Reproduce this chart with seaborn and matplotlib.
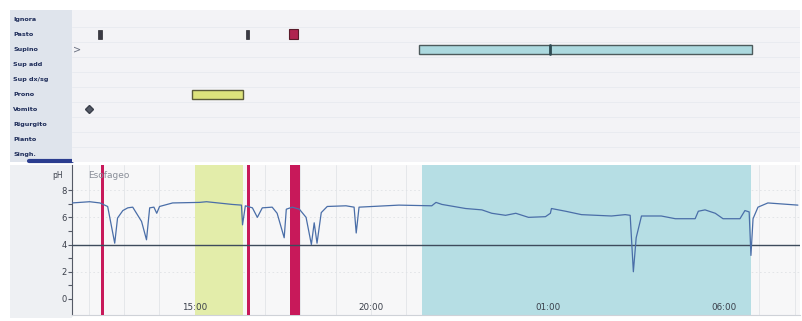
import numpy as np
import pandas as pd
import matplotlib
matplotlib.use("Agg")
import matplotlib.pyplot as plt
import seaborn as sns

# pH trace, time in clock hours (values past 24 belong to next day)
ph_time = [11.53, 12.03, 12.32, 12.54, 12.74, 12.82, 12.97, 13.11, 13.25, 13.50, 13.64, 13.73,
           13.85, 13.93, 14.01, 14.38, 15.14, 15.34, 16.07, 16.33, 16.36, 16.44, 16.64, 16.78,
           16.92, 17.20, 17.34, 17.54, 17.60, 17.77, 17.97, 18.16, 18.31, 18.39, 18.47, 18.59,
           18.76, 19.29, 19.52, 19.58, 19.66, 20.79, 21.72, 21.84, 22.01, 22.68, 23.14, 23.42,
           23.81, 24.10, 24.46, 24.94, 25.08, 25.11, 25.51, 25.96, 26.81, 27.20, 27.34, 27.43,
           27.51, 27.66, 28.22, 28.62, 29.18, 29.27, 29.46, 29.75, 29.97, 30.45, 30.59, 30.71,
           30.76, 30.82, 30.96, 31.24, 32.09]
ph_value = [7.06, 7.15, 7.06, 6.8, 4.1, 5.95, 6.5, 6.7, 6.75, 5.7, 4.35, 6.7,
            6.75, 6.3, 6.8, 7.06, 7.1, 7.15, 6.95, 6.9, 5.45, 6.85, 6.7, 6.0,
            6.7, 6.75, 6.3, 4.5, 6.6, 6.75, 6.6, 6.0, 4.0, 5.6, 4.1, 6.35,
            6.8, 6.85, 6.75, 4.85, 6.75, 6.9, 6.85, 7.1, 6.95, 6.65, 6.55, 6.3,
            6.15, 6.3, 6.0, 6.05, 6.3, 6.65, 6.45, 6.2, 6.1, 6.2, 6.15, 2.0,
            4.5, 6.1, 6.1, 5.9, 5.9, 6.45, 6.55, 6.3, 5.9, 5.9, 6.5, 6.4,
            3.2, 5.9, 6.75, 7.06, 6.9]

row_labels = ["Ignora", "Pasto", "Supino", "Sup add", "Sup dx/sg", "Prono",
              "Vomito", "Rigurgito", "Pianto", "Singh."]

meal_start = [12.28, 16.46]
meal_end = [12.37, 16.55]
meal_red_start = [17.68]
meal_red_end = [17.92]
supine_start = 21.36
supine_end = 30.79
supine_mark = 25.06
prone_start = 14.92
prone_end = 16.38
vomit_time = 12.0

red_start = [12.36, 16.49, 17.71]
red_end = [12.45, 16.58, 17.99]
yellow_start, yellow_end = 15.0, 16.38
cyan_start, cyan_end = 21.44, 30.76

tick_hours = [15, 20, 25, 30]
tick_names = ["15:00", "20:00", "01:00", "06:00"]

sns.set_style("white")
plt.rcParams['font.family'] = ['DejaVu Sans']

W, H = 803, 321
fig = plt.figure(figsize=(W / 100, H / 100), dpi=100)

def box(x0, y0, x1, y1):
    return [x0 / W, 1 - y1 / H, (x1 - x0) / W, (y1 - y0) / H]

xmin, xmax = 11.53, 32.15
row_lim = (9.53, -0.6)

# label panel
lab = fig.add_axes(box(10, 10, 72, 162))
lab.set_facecolor("#dfe4ec")
lab.set_xlim(0, 1)
lab.set_ylim(*row_lim)
for i, name in enumerate(row_labels):
    lab.text(0.05, i, name, fontsize=4.6, fontweight="bold", color="#1f2d5a", va="center")
lab.set_xticks([]); lab.set_yticks([])
for s in lab.spines.values():
    s.set_visible(False)
lab.plot([0.3, 1], [row_lim[0] - 0.05] * 2, color="#2b3d8f", lw=3, clip_on=False)

# event panel
ev = fig.add_axes(box(72, 10, 800, 162))
ev.set_facecolor("#f3f3f6")
ev.set_xlim(xmin, xmax)
ev.set_ylim(*row_lim)
for i in range(len(row_labels)):
    ev.axhline(i + 0.5, color="#e8eaef", lw=0.6)
ev.barh([1] * len(meal_start), np.subtract(meal_end, meal_start), left=meal_start,
        height=0.6, color="#3a3a44", edgecolor="#2a2a30", lw=0.5)
ev.barh([1], np.subtract(meal_red_end, meal_red_start), left=meal_red_start,
        height=0.65, color="#b0244f", edgecolor="#5a1a2a", lw=0.8)
ev.barh([2], [supine_end - supine_start], left=[supine_start], height=0.6,
        color="#acd9df", edgecolor="#4d5a5c", lw=1.0)
ev.plot([supine_mark, supine_mark], [1.7, 2.3], color="#2e4a52", lw=2)
ev.barh([5], [prone_end - prone_start], left=[prone_start], height=0.6,
        color="#dde37c", edgecolor="#5c5c3a", lw=1.0)
ev.plot([vomit_time], [6], marker="D", ms=4.5, color="#555a66", mec="#3a3f4a")
ev.text(xmin + 0.02, 2, ">", fontsize=7, color="#6a7080", va="center", ha="left")
ev.set_xticks([]); ev.set_yticks([])
for s in ev.spines.values():
    s.set_visible(False)

# left panel of pH axis
lab2 = fig.add_axes(box(10, 165, 72, 318))
lab2.set_facecolor("#eef0f3")
lab2.set_xticks([]); lab2.set_yticks([])
for s in lab2.spines.values():
    s.set_visible(False)

# pH plot
ax = fig.add_axes(box(72, 165, 800, 315))
ax.set_facecolor("#f7f7f8")
ax.set_axisbelow(False)
ax.set_xlim(xmin, xmax)
ax.set_ylim(-1.18, 9.85)
for h in range(12, 33):
    ax.axvline(h, color="#e2e4e8", lw=0.6, zorder=0)
for v in [2, 6, 8]:
    ax.axhline(v, color="#e0e2e6", lw=0.6, ls=(0, (2, 3)), zorder=0)
ax.axvspan(yellow_start, yellow_end, color="#e3edaa", lw=0, zorder=1)
ax.axvspan(cyan_start, cyan_end, color="#b6dee4", lw=0, zorder=1)
for a, b in zip(red_start, red_end):
    ax.axvspan(a, b, color="#c8195a", lw=0, zorder=3)
ax.axhline(4, color="#3e4b5c", lw=1.0, zorder=4)

df = pd.DataFrame({"time": ph_time, "ph": ph_value})
sns.lineplot(data=df, x="time", y="ph", ax=ax, color="#4a6ea8", lw=0.9, zorder=5,
             estimator=None, sort=False)
ax.set_xlabel(""); ax.set_ylabel("")

ax.set_yticks([0, 2, 4, 6, 8])
ax.set_yticks([1, 3, 5, 7], minor=True)
ax.tick_params(axis="y", which="both", direction="out", length=3, width=0.8,
               color="#555a66", labelsize=6, labelcolor="#3a3f4a", pad=1, left=True)
ax.set_xticks(tick_hours)
ax.set_xticklabels(tick_names)
ax.tick_params(axis="x", length=0, pad=-8.5, labelsize=6.3, labelcolor="#3a3f4a")
ax.text(-0.012, 9.1, "pH", transform=ax.get_yaxis_transform(), fontsize=5.5,
        color="#3a3f4a", ha="right", va="center")
ax.text(12.0, 9.1, "Esofageo", fontsize=6.5, color="#8a8f99", ha="left", va="center")
for s in ["top", "right"]:
    ax.spines[s].set_visible(False)
ax.spines["left"].set_color("#555a66")
ax.spines["bottom"].set_color("#cfd2d8")

fig.savefig("out.png", dpi=100, facecolor="white")
